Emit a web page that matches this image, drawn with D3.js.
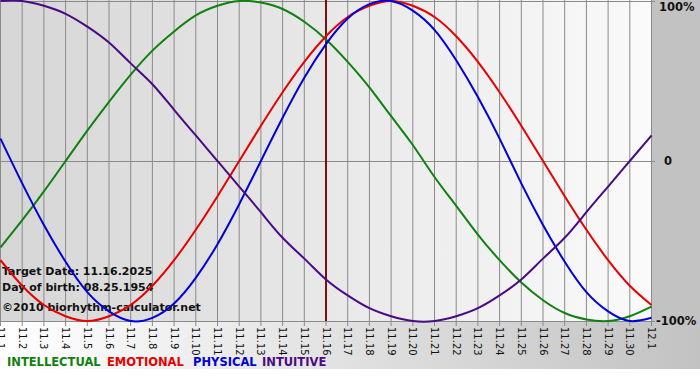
<!DOCTYPE html>
<html>
<head>
<meta charset="utf-8">
<script src="https://cdn.jsdelivr.net/npm/d3@7"></script>
<style>
  body { margin: 0; background: #fff; }
  svg { display: block; font-family: "DejaVu Sans", Verdana, sans-serif; }
</style>
</head>
<body>
<svg id="chart" width="700" height="380"></svg>
<script>
// days shown on the axis
const days = ['11.1', '11.2', '11.3', '11.4', '11.5', '11.6', '11.7', '11.8', '11.9', '11.10',
  '11.11', '11.12', '11.13', '11.14', '11.15', '11.16', '11.17', '11.18', '11.19', '11.20',
  '11.21', '11.22', '11.23', '11.24', '11.25', '11.26', '11.27', '11.28', '11.29', '11.30', '12.1'];

// cycle values per day, -1..1
const intellectual = [-0.54, -0.37, -0.19, 0.00, 0.19, 0.37, 0.54, 0.69, 0.81, 0.91, 0.97, 1.00, 0.99,
  0.95, 0.87, 0.76, 0.62, 0.46, 0.28, 0.10, -0.10, -0.28, -0.46, -0.62, -0.76, -0.87, -0.95, -0.99,
  -1.00, -0.97, -0.91];
const emotional = [-0.62, -0.78, -0.90, -0.97, -1.00, -0.97, -0.90, -0.78, -0.62, -0.43, -0.22, 0.00,
  0.22, 0.43, 0.62, 0.78, 0.90, 0.97, 1.00, 0.97, 0.90, 0.78, 0.62, 0.43, 0.22, 0.00, -0.22, -0.43,
  -0.62, -0.78, -0.90];
const physical = [0.14, -0.14, -0.40, -0.63, -0.82, -0.94, -1.00, -0.98, -0.89, -0.73, -0.52, -0.27,
  0.00, 0.27, 0.52, 0.73, 0.89, 0.98, 1.00, 0.94, 0.82, 0.63, 0.40, 0.14, -0.14, -0.40, -0.63, -0.82,
  -0.94, -1.00, -0.98];
const intuitive = [1.00, 1.00, 0.97, 0.92, 0.84, 0.74, 0.61, 0.48, 0.32, 0.16, 0.00, -0.16, -0.32,
  -0.48, -0.61, -0.74, -0.84, -0.92, -0.97, -1.00, -1.00, -0.97, -0.92, -0.84, -0.74, -0.61, -0.48,
  -0.32, -0.16, 0.00, 0.16];

const targetDay = '11.16';
const infoLines = ['Target Date: 11.16.2025', 'Day of birth: 08.25.1954', '\u00a92010 biorhythm-calculator.net'];
const yLabels = [{v: 1, t: '100%'}, {v: 0, t: '0'}, {v: -1, t: '-100%'}];

const series = [
  {name: 'INTELLECTUAL', values: intellectual, color: '#108010'},
  {name: 'EMOTIONAL', values: emotional, color: '#e80000'},
  {name: 'PHYSICAL', values: physical, color: '#0000d8'},
  {name: 'INTUITIVE', values: intuitive, color: '#4a0a84'},
];

const svg = d3.select('#chart');
const W = 700, plotR = 651, plotT = 1, plotB = 321, bottomB = 369;

const defs = svg.append('defs');
const g1 = defs.append('linearGradient').attr('id', 'plotBg');
g1.append('stop').attr('offset', '0%').attr('stop-color', '#d6d6d6');
g1.append('stop').attr('offset', '100%').attr('stop-color', '#fafafa');
const g2 = defs.append('linearGradient').attr('id', 'bottomBg');
g2.append('stop').attr('offset', '0%').attr('stop-color', '#ffffff');
g2.append('stop').attr('offset', '100%').attr('stop-color', '#c2c2c2');

// backgrounds
svg.append('rect').attr('x', 0).attr('y', 0).attr('width', plotR).attr('height', plotB)
    .attr('fill', 'url(#plotBg)');
svg.append('rect').attr('x', plotR).attr('y', 0).attr('width', W - plotR).attr('height', plotB)
    .attr('fill', '#c2c2c2');
svg.append('rect').attr('x', 0).attr('y', plotB).attr('width', W).attr('height', bottomB - plotB)
    .attr('fill', 'url(#bottomBg)');

const x = d3.scalePoint().domain(days).range([0.5, plotR + 0.5]);
const y = d3.scaleLinear().domain([-1, 1]).range([plotB, plotT]);

// vertical grid
svg.append('g').selectAll('line').data(days).join('line')
    .attr('x1', (d) => x(d)).attr('x2', (d) => x(d))
    .attr('y1', 0).attr('y2', plotB + 5)
    .attr('stroke', '#8a8a8a').attr('stroke-width', 1);

// horizontal grid
svg.append('g').selectAll('line').data(yLabels).join('line')
    .attr('x1', 0).attr('x2', plotR + 4)
    .attr('y1', (d) => Math.round(y(d.v)) + 0.5).attr('y2', (d) => Math.round(y(d.v)) + 0.5)
    .attr('stroke', '#8a8a8a').attr('stroke-width', 1);

// target day marker
svg.append('line')
    .attr('x1', x(targetDay)).attr('x2', x(targetDay))
    .attr('y1', 0).attr('y2', plotB)
    .attr('stroke', '#7a1010').attr('stroke-width', 2);

// info text
svg.append('g').selectAll('text').data(infoLines).join('text')
    .attr('x', 2)
    .attr('y', (d, i) => [275, 291, 311][i])
    .attr('font-size', 11).attr('font-weight', 'bold')
    .attr('fill', '#111')
    .text((d) => d);

// curves
const line = d3.line()
    .x((d, i) => x(days[i]))
    .y((d) => y(d))
    .curve(d3.curveNatural);

svg.append('g').selectAll('path').data(series).join('path')
    .attr('d', (d) => line(d.values))
    .attr('fill', 'none')
    .attr('stroke', (d) => d.color)
    .attr('stroke-width', 2);

// day labels
svg.append('g').selectAll('text').data(days).join('text')
    .attr('transform', (d) => 'translate(' + x(d) + ',' + (plotB + 6) + ') rotate(90)')
    .attr('dominant-baseline', 'central')
    .attr('font-size', 10)
    .attr('fill', '#111')
    .text((d) => d);

// right labels
svg.append('g').selectAll('text').data(yLabels).join('text')
    .attr('x', (d) => d.v === 0 ? 664 : (d.v > 0 ? 659 : 656))
    .attr('y', (d) => y(d.v) + (d.v > 0 ? 6 : 0))
    .attr('dominant-baseline', 'central')
    .attr('font-size', 11.5).attr('font-weight', 'bold')
    .attr('fill', '#111')
    .text((d) => d.t);

// legend
const legendX = [7, 107, 193, 262];
svg.append('g').selectAll('text').data(series).join('text')
    .attr('x', (d, i) => legendX[i])
    .attr('y', 366)
    .attr('font-size', 11.5).attr('font-weight', 'bold')
    .attr('fill', (d) => d.color)
    .text((d) => d.name);
</script>
</body>
</html>
